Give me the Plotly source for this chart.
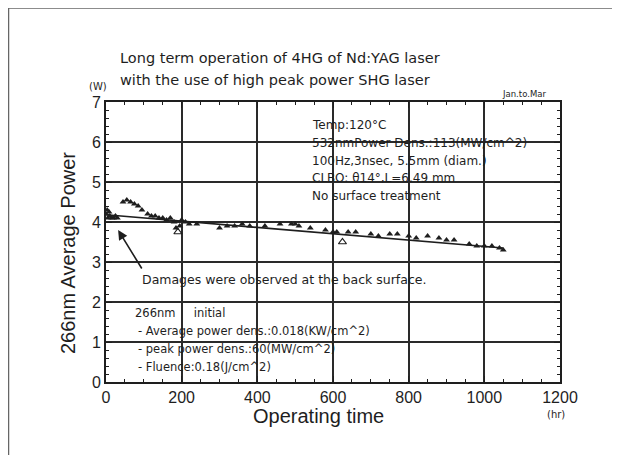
import plotly.graph_objects as go

# ---- data ----
hours = [0, 3, 5, 8, 10, 15, 20, 25, 30, 45, 55, 65, 75, 85, 95, 110, 120, 130, 140,
         150, 160, 170, 180, 185, 195, 200, 210, 220, 240, 300, 320, 340, 360, 380,
         420, 460, 490, 500, 510, 540, 580, 600, 610, 640, 660, 700, 720, 750, 770,
         800, 820, 850, 880, 900, 920, 960, 980, 1000, 1020, 1040, 1050]
power = [4.2, 4.3, 4.1, 4.25, 4.15, 4.1, 4.1, 4.15, 4.1, 4.5, 4.55, 4.5, 4.45, 4.4,
         4.3, 4.2, 4.15, 4.15, 4.1, 4.1, 4.05, 4.1, 4.0, 3.85, 3.9, 4.05, 4.0, 3.95,
         3.95, 3.85, 3.9, 3.9, 3.95, 3.9, 3.9, 3.95, 3.95, 3.95, 3.9, 3.85, 3.8,
         3.75, 3.75, 3.75, 3.75, 3.7, 3.65, 3.7, 3.7, 3.65, 3.6, 3.65, 3.6, 3.55, 3.55,
         3.45, 3.4, 3.4, 3.4, 3.35, 3.3]
open_hours = [190, 625]
open_power = [3.75, 3.5]
fit_hours = [0, 1050]
fit_power = [4.18, 3.35]

x_ticks = [0, 200, 400, 600, 800, 1000, 1200]
y_ticks = [0, 1, 2, 3, 4, 5, 6, 7]

title_lines = ["Long term operation of 4HG of Nd:YAG laser",
               "with the use of high peak power SHG laser"]
cond_lines = ["Temp:120°C",
              "532nmPower Dens.:113(MW/cm^2)",
              "100Hz,3nsec, 5.5mm (diam.)",
              "CLBO: θ14°,L=6.49 mm",
              "No surface treatment"]
init_lines = ["266nm     initial",
              "- Average power dens.:0.018(KW/cm^2)",
              "- peak power dens.:60(MW/cm^2)",
              "- Fluence:0.18(J/cm^2)"]
damage_text = "Damages were observed at the back surface."

INK = "#1e1e1e"
FONT = "Liberation Sans, Arial, sans-serif"
WIDE = "DejaVu Sans, sans-serif"

fig = go.Figure()
fig.add_trace(go.Scatter(x=fit_hours, y=fit_power, mode="lines",
                         line=dict(color=INK, width=1.6), showlegend=False))
fig.add_trace(go.Scatter(x=hours, y=power, mode="markers",
                         marker=dict(symbol="triangle-up", size=6, color=INK),
                         showlegend=False))
fig.add_trace(go.Scatter(x=open_hours, y=open_power, mode="markers",
                         marker=dict(symbol="triangle-up-open", size=7, color=INK,
                                     line=dict(width=1.2)),
                         showlegend=False))

axis_common = dict(showline=True, linecolor=INK, linewidth=1.6, mirror="allticks",
                   ticks="inside", ticklen=6, tickcolor=INK, tickwidth=1.2,
                   showgrid=True, gridcolor="#2a2a2a", gridwidth=1.5, zeroline=False,
                   tickfont=dict(family=FONT, size=16, color=INK))
fig.update_xaxes(range=[0, 1200], tickvals=x_ticks, ticktext=[str(v) for v in x_ticks],
                 minor=dict(dtick=50, ticks="inside", ticklen=3, tickcolor=INK, showgrid=False),
                 **axis_common)
fig.update_yaxes(range=[0, 7], tickvals=y_ticks, ticktext=[str(v) for v in y_ticks],
                 minor=dict(dtick=0.2, ticks="inside", ticklen=3, tickcolor=INK, showgrid=False),
                 **axis_common)

# plot area on screen: x 106..560, y 102..382
X0, X1, Y0, Y1 = 106, 560, 102, 382
def px(xp):
    return (xp - X0) / (X1 - X0)
def py(yp):
    return (Y1 - yp) / (Y1 - Y0)

def txt(t, x, y, size, family=WIDE, xanchor="left", **kw):
    return dict(text=t, xref="paper", yref="paper", x=px(x), y=py(y),
                xanchor=xanchor, yanchor="middle", showarrow=False,
                font=dict(family=family, size=size, color=INK), **kw)

ann = []
for i, t in enumerate(title_lines):
    ann.append(txt(t, 118, 58 + 22 * i, 14.5))
ann.append(txt("(W)", 98, 86, 10, xanchor="center"))
ann.append(txt("(hr)", 556, 414, 10, xanchor="center"))
ann.append(txt("Jan.to.Mar", 548, 94, 8.5, xanchor="right"))
ann.append(txt("266nm Average Power", 68, 253, 20, family=FONT, xanchor="center",
               textangle=-90))
ann.append(txt("Operating time", 318, 416, 20, family=FONT, xanchor="center"))
for i, t in enumerate(cond_lines):
    ann.append(txt(t, 310, 125 + 17.8 * i, 12))
for i, t in enumerate(init_lines):
    ann.append(txt(t, 133 if i == 0 else 136, 313 + 18 * i, 11.5))
ann.append(txt(damage_text, 140, 279, 12.5))
# arrow
ann.append(dict(text="", xref="x", yref="y", x=32, y=3.8, axref="x", ayref="y",
                ax=97, ay=2.8, showarrow=True, arrowhead=2, arrowsize=1.2,
                arrowwidth=1.6, arrowcolor=INK))

shapes = [
    dict(type="line", xref="paper", yref="paper", x0=px(8), x1=px(640), y0=py(8), y1=py(8),
         line=dict(color="#666", width=1.5)),
    dict(type="line", xref="paper", yref="paper", x0=px(8.5), x1=px(8.5), y0=py(8), y1=py(470),
         line=dict(color="#666", width=1.5)),
]

# the page body adds an 8px margin, so the figure is 8px smaller and offset
fig.update_layout(width=612, height=447,
                  margin=dict(l=X0 - 8, r=620 - X1, t=Y0 - 8, b=455 - Y1),
                  paper_bgcolor="white", plot_bgcolor="white",
                  annotations=ann, shapes=shapes, showlegend=False)

fig.write_html("out.html")
